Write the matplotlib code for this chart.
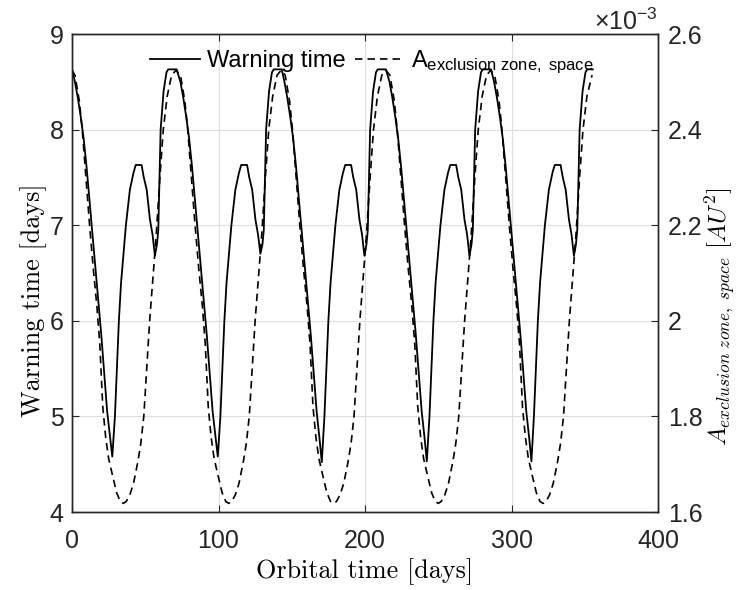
import matplotlib
matplotlib.use('Agg')
import matplotlib.pyplot as plt
from matplotlib.ticker import FuncFormatter

plt.rcParams['font.family'] = 'Liberation Sans'
plt.rcParams['mathtext.fontset'] = 'custom'
plt.rcParams['mathtext.rm'] = 'Liberation Sans'
plt.rcParams['mathtext.it'] = 'Liberation Sans:italic'
plt.rcParams['mathtext.sf'] = 'Liberation Sans'

# warning time (solid)
days_warn = [
    0, 2, 4, 6, 8, 10, 12, 14, 16, 18, 20, 22, 24, 26, 27.5,
    29.3, 32, 33.5, 36.8, 39.5, 42, 43.5, 47.5, 49, 51, 53.2, 55, 56.6, 58, 58.9, 60.5, 62.5, 64.5, 65.7, 71.4,
    74, 76, 78, 80, 82, 84, 86, 88, 90, 92, 94, 96, 98, 99.5,
    101.3, 104, 105.5, 108.8, 111.5, 114, 115.5, 119.5, 121, 123, 125.2, 127, 128.6, 130, 130.9, 132.5, 134.5, 136.5, 137.7, 143.2,
    145, 147, 149, 151, 153, 155, 157, 159, 161, 163, 165, 167, 169, 170.5,
    172.3, 175, 176.5, 179.8, 182.5, 185, 186.5, 190.5, 192, 194, 196.2, 198, 199.6, 201, 201.9, 203.5, 205.5, 207.5, 208.7, 214.3,
    216.7, 218.7, 220.7, 222.7, 224.7, 226.7, 228.7, 230.7, 232.7, 234.7, 236.7, 238.7, 240.7, 242.2,
    244, 246.7, 248.2, 251.5, 254.2, 256.7, 258.2, 262.2, 263.7, 265.7, 267.9, 269.7, 271.3, 272.7, 273.6, 275.2, 277.2, 279.2, 280.4, 286,
    288.1, 290.1, 292.1, 294.1, 296.1, 298.1, 300.1, 302.1, 304.1, 306.1, 308.1, 310.1, 312.1, 313.6,
    315.3, 318, 319.5, 322.8, 325.5, 328, 329.5, 333.5, 335, 337, 339.2, 341, 342.6, 344, 344.9, 346.5, 348.5, 350.5, 351.7, 355.5,
]
warning_time = [
    8.64, 8.5, 8.33, 8.13, 7.9, 7.6, 7.25, 6.9, 6.55, 6.2, 5.85, 5.45, 5.05, 4.78, 4.58,
    5.0, 6.0, 6.4, 7.0, 7.37, 7.55, 7.63, 7.63, 7.5, 7.37, 7.06, 6.9, 6.68, 6.8, 6.95, 8.0, 8.4, 8.6, 8.63, 8.63,
    8.5, 8.33, 8.13, 7.9, 7.6, 7.25, 6.9, 6.55, 6.2, 5.85, 5.45, 5.05, 4.78, 4.58,
    5.0, 6.0, 6.4, 7.0, 7.37, 7.55, 7.63, 7.63, 7.5, 7.37, 7.06, 6.9, 6.7, 6.8, 6.95, 8.0, 8.4, 8.6, 8.63, 8.63,
    8.5, 8.33, 8.13, 7.9, 7.6, 7.25, 6.9, 6.55, 6.2, 5.85, 5.45, 5.05, 4.76, 4.52,
    5.0, 6.0, 6.4, 7.0, 7.37, 7.55, 7.63, 7.63, 7.5, 7.37, 7.06, 6.9, 6.68, 6.8, 6.95, 8.0, 8.4, 8.6, 8.63, 8.63,
    8.5, 8.33, 8.13, 7.9, 7.6, 7.25, 6.9, 6.55, 6.2, 5.85, 5.45, 5.05, 4.77, 4.53,
    5.0, 6.0, 6.4, 7.0, 7.37, 7.55, 7.63, 7.63, 7.5, 7.37, 7.06, 6.9, 6.68, 6.8, 6.95, 8.0, 8.4, 8.6, 8.63, 8.63,
    8.5, 8.33, 8.13, 7.9, 7.6, 7.25, 6.9, 6.55, 6.2, 5.85, 5.45, 5.05, 4.77, 4.53,
    5.0, 6.0, 6.4, 7.0, 7.37, 7.55, 7.63, 7.63, 7.5, 7.37, 7.06, 6.9, 6.68, 6.8, 6.95, 8.0, 8.4, 8.6, 8.63, 8.63,
]

# exclusion zone area (dashed), in units of 1e-3 AU^2
days_area = [
    0, 2, 5, 7, 9.5, 12, 14.5, 17, 19, 21, 23, 25, 28, 30.5, 33, 35,
    37, 39.5, 42, 45, 47, 49, 51, 53, 55, 57.5, 60, 62.3, 65, 68, 71,
    74, 77, 79, 81.5, 84, 86.5, 89, 91, 93, 95, 97, 100, 102.5, 105, 107,
    109, 111.5, 114, 117, 119, 121, 123, 125, 127, 129.5, 132, 134.3, 137, 140, 142.75,
    145.5, 148.5, 150.5, 153, 155.5, 158, 160.5, 162.5, 164.5, 166.5, 168.5, 171.5, 174, 176.5, 178.5,
    180.5, 183, 185.5, 188.5, 190.5, 192.5, 194.5, 196.5, 198.5, 201, 203.5, 205.8, 208.5, 211.5, 214.25,
    217, 220, 222, 224.5, 227, 229.5, 232, 234, 236, 238, 240, 243, 245.5, 248, 250,
    252, 254.5, 257, 260, 262, 264, 266, 268, 270, 272.5, 275, 277.3, 280, 283, 285.75,
    288.5, 291.5, 293.5, 296, 298.5, 301, 303.5, 305.5, 307.5, 309.5, 311.5, 314.5, 317, 319.5, 321.5,
    323.5, 326, 328.5, 331.5, 333.5, 335.5, 337.5, 339.5, 341.5, 344, 346.5, 348.8, 351.5, 355,
]
area_e3 = [
    2.524, 2.514, 2.46, 2.40, 2.30, 2.20, 2.11, 2.03, 1.95, 1.82, 1.756, 1.712, 1.672, 1.64, 1.622, 1.618,
    1.622, 1.636, 1.66, 1.706, 1.744, 1.80, 1.90, 2.00, 2.08, 2.18, 2.30, 2.40, 2.47, 2.514, 2.524,
    2.514, 2.46, 2.40, 2.30, 2.20, 2.11, 2.03, 1.95, 1.82, 1.756, 1.712, 1.672, 1.64, 1.622, 1.618,
    1.622, 1.636, 1.66, 1.706, 1.744, 1.80, 1.90, 2.00, 2.08, 2.18, 2.30, 2.40, 2.47, 2.514, 2.524,
    2.514, 2.46, 2.40, 2.30, 2.20, 2.11, 2.03, 1.95, 1.82, 1.756, 1.712, 1.672, 1.64, 1.622, 1.618,
    1.622, 1.636, 1.66, 1.706, 1.744, 1.80, 1.90, 2.00, 2.08, 2.18, 2.30, 2.40, 2.47, 2.514, 2.524,
    2.514, 2.46, 2.40, 2.30, 2.20, 2.11, 2.03, 1.95, 1.82, 1.756, 1.712, 1.672, 1.64, 1.622, 1.618,
    1.622, 1.636, 1.66, 1.706, 1.744, 1.80, 1.90, 2.00, 2.08, 2.18, 2.30, 2.40, 2.47, 2.514, 2.524,
    2.514, 2.46, 2.40, 2.30, 2.20, 2.11, 2.03, 1.95, 1.82, 1.756, 1.712, 1.672, 1.64, 1.622, 1.618,
    1.622, 1.636, 1.66, 1.706, 1.744, 1.80, 1.90, 2.00, 2.08, 2.18, 2.30, 2.40, 2.47, 2.514,
]

x_ticks = [0, 100, 200, 300, 400]
left_ticks = [4, 5, 6, 7, 8, 9]
right_ticks = [1.6, 1.8, 2.0, 2.2, 2.4, 2.6]

edge = '#262626'

fig = plt.figure(figsize=(7.38, 5.9), dpi=100)
ax = fig.add_axes([72 / 738, 1 - 512 / 590, 586 / 738, 478 / 590])
ax2 = ax.twinx()

l1, = ax.plot(days_warn, warning_time, color='k', lw=1.3, label='Warning time')
l2, = ax2.plot(days_area, area_e3, color='k', lw=1.2, dashes=(4.5, 3),
               label=r'A$_{\mathrm{exclusion\ zone,\ space}}$')

ax.set_xlim(0, 400)
ax.set_ylim(4, 9)
ax2.set_ylim(1.6, 2.6)
ax.set_xticks(x_ticks)
ax.set_yticks(left_ticks)
ax2.set_yticks(right_ticks)
ax2.yaxis.set_major_formatter(FuncFormatter(lambda v, p: '%g' % round(v, 3)))

ax.grid(True, color='#dedede', lw=0.8)

for a in (ax, ax2):
    for s in a.spines.values():
        s.set_color(edge)
        s.set_linewidth(1.0)

ax.tick_params(direction='in', length=5, width=0.8, colors=edge, labelcolor='#262626',
               labelsize=18, top=True, right=False)
ax.tick_params(axis='x', pad=12)
ax.tick_params(axis='y', pad=6)
ax2.tick_params(direction='in', length=5, width=0.8, colors=edge, labelcolor='#262626',
                labelsize=18, pad=7)

ax.set_xlabel('Orbital time [days]', fontfamily='cmr10', fontsize=18.8, labelpad=4)
ax.set_ylabel('Warning time [days]', fontfamily='cmr10', fontsize=18.8)
ax2.set_ylabel(r'$A_{exclusion\ zone,\ space}\ [AU^2]$', math_fontfamily='cm', fontsize=18)
ax.yaxis.set_label_coords(-0.043, 0.443)
ax2.yaxis.set_label_coords(1.077, 0.408)

ax2.text(1.0, 0.997, r'$\times10^{-3}$', transform=ax2.transAxes, ha='right', va='bottom',
         fontsize=18, color='#262626')

ax2.legend(handles=[l1, l2], loc='upper left', bbox_to_anchor=(0.133, 0.969), ncol=2,
           frameon=False, fontsize=17, handlelength=2.1, handletextpad=0.3,
           columnspacing=0.4, borderpad=0, borderaxespad=0)

fig.savefig('out.png', dpi=100)
